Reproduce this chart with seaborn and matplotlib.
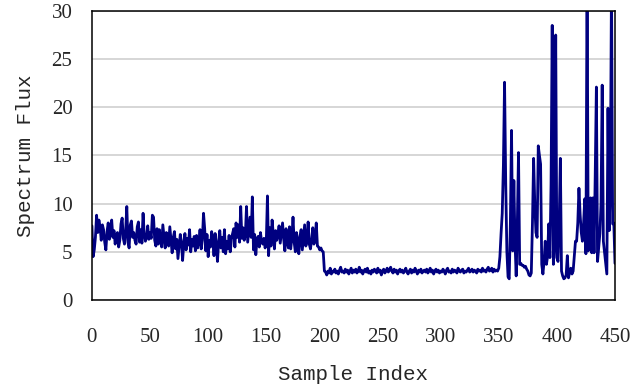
import matplotlib
matplotlib.use("Agg")
import matplotlib.pyplot as plt
import seaborn as sns
import pandas as pd

# spectrum flux per sample
flux_part1 = [
    7.7, 4.5, 5.2, 6.5, 8.8, 7.0, 8.3, 7.6, 6.2, 7.8,
    7.3, 6.0, 5.2, 7.1, 8.0, 6.3, 7.5, 8.3, 6.5, 7.2,
    5.8, 6.8, 7.0, 5.5, 6.2, 7.9, 8.5, 6.4, 5.8, 7.2,
    9.7, 6.0, 5.4, 7.8, 8.2, 6.5, 7.0, 6.2, 5.8, 7.6,
    8.1, 6.0, 7.3, 5.9, 9.0, 6.8, 6.1, 6.5, 7.7, 6.3,
    7.0, 6.4, 8.8, 8.6, 6.2, 5.6, 7.4, 5.8, 7.3, 6.1,
    5.5, 7.8, 6.6, 5.4, 7.0, 6.8, 5.6, 7.6, 6.2, 4.9,
    6.5, 7.1, 5.3, 6.3, 4.3, 5.5, 6.8, 6.0, 4.1, 5.8,
    6.9, 5.2, 6.4, 5.7, 7.3, 5.0, 6.3, 5.6, 6.6, 5.1,
    6.7, 5.4, 6.0, 7.3, 5.3, 6.2, 9.0, 7.4, 5.1, 6.8,
    4.5, 6.2, 5.5, 7.1, 6.3, 4.6, 6.9, 5.8, 4.0, 6.0,
    7.2, 5.4, 6.5, 5.0, 7.3, 4.8, 6.1, 5.3, 6.7, 5.0,
    6.3, 6.9, 7.4, 5.5, 8.0, 6.5, 7.8, 6.0, 9.7, 6.4,
    7.5, 6.2, 6.8, 9.7, 6.0, 7.3, 8.6, 6.5, 10.7, 5.2,
    6.8, 4.7, 6.3, 6.6, 5.5, 7.0, 6.0, 5.8, 6.4, 5.4,
    6.0, 10.8, 4.6, 7.5, 5.6, 8.3, 6.9, 5.3, 7.2, 6.2,
    6.8, 7.7, 5.9, 7.0, 8.0, 6.3, 5.1, 7.4, 6.1, 5.4,
    7.6, 5.3, 6.4, 8.6, 6.0, 5.0, 7.0, 6.1, 4.8, 6.6,
    7.3, 5.2, 6.5, 7.8, 5.6, 6.0, 8.1, 5.8, 5.3, 6.2,
    7.5, 5.8, 6.4, 8.0, 5.6, 5.5, 5.2, 5.4,
]
flux_part2 = [
    5.1, 5.0, 3.0, 2.9, 2.6, 3.0, 2.8, 3.3, 2.7, 3.0,
    2.9, 3.2, 2.8, 3.0, 2.7, 3.1, 3.4, 2.9, 3.0, 2.8,
    3.2, 2.9, 3.1, 2.7, 3.0, 3.3, 2.8, 3.1, 2.9, 3.2,
    2.8, 3.0, 3.4, 2.9, 3.1, 2.7, 3.0, 3.2, 2.9, 3.3,
    2.8, 3.0, 2.7, 3.1, 2.9, 3.2, 3.0, 2.8, 3.3, 2.9,
    3.1, 2.6, 3.0, 3.2, 2.8, 3.0, 3.3, 2.9, 3.1, 3.4,
    3.0, 2.8, 3.2, 2.9, 3.1, 2.7, 3.0, 3.2, 2.9, 3.1,
    2.8, 3.0, 3.3, 2.9, 2.7, 3.0, 3.2, 2.8, 3.1, 2.9,
    3.3, 3.0, 2.7, 3.1, 2.9, 3.2, 2.8, 3.0, 3.1, 2.9,
    3.2, 2.8, 3.0, 3.3, 2.9, 3.1, 2.7, 3.0, 3.2, 2.9,
    3.1, 2.8, 3.0, 2.9, 3.2, 3.0, 2.7, 3.1, 3.3, 2.9,
    3.0, 2.8, 3.2, 2.9, 3.1, 3.0, 2.8, 3.3, 3.0, 2.9,
    3.1, 3.2, 2.8, 3.0, 2.9, 3.1, 3.3, 2.9, 3.0, 3.2,
    2.9, 3.1, 3.0, 2.8, 3.2, 3.0, 3.1, 2.9, 3.3, 3.0,
    3.1, 2.9, 3.2, 3.4, 3.0, 3.1, 3.3, 2.9, 3.2, 3.0,
    3.1,
]
flux_part3 = [
    3.0, 3.3, 4.5, 6.9, 9.0, 14.0, 22.6, 12.1, 5.0, 2.4,
    2.2, 8.0, 17.6, 5.1, 12.4, 6.0, 2.5, 8.0, 15.3, 3.7,
    3.8, 3.6, 3.6, 3.4, 3.5, 3.2, 3.0, 2.6, 2.5, 2.8,
    8.0, 14.7, 10.0, 7.0, 6.5, 16.0, 15.0, 14.1, 3.7, 2.7,
    4.0, 6.1, 3.7, 4.5, 7.9, 4.4, 12.0, 28.5, 3.7, 6.0,
    27.5, 4.4, 4.0, 8.0, 14.7, 3.0, 2.5, 2.2, 2.3, 2.6,
    4.6, 2.3, 2.9, 3.3, 2.7, 3.0, 4.5, 6.1, 6.1, 8.0,
    11.6, 8.9, 7.0, 6.1, 8.0, 10.5, 4.8, 34.0, 5.1, 7.0,
    10.6, 4.9, 10.6, 4.9, 13.0, 22.1, 4.0, 5.4, 6.9, 10.0,
    22.3, 6.1, 5.0, 4.0, 2.7, 19.9, 7.2, 12.0, 33.0, 7.9,
    8.0, 3.8,
]

flux = flux_part1 + flux_part2 + flux_part3
df = pd.DataFrame({"index": range(len(flux)), "flux": flux})

sns.set_style("white")
plt.rcParams['font.family'] = ['Liberation Serif', 'DejaVu Serif']

fig = plt.figure(figsize=(6.34, 3.88), dpi=100)
ax = fig.add_axes([0.145, 0.2268, 0.825, 0.745])

sns.lineplot(data=df, x="index", y="flux", color="#000080", linewidth=2.0, ax=ax)

ax.set_xlim(0, 450)
ax.set_ylim(0, 30)
ax.set_xticks(range(0, 451, 50))
ax.set_yticks(range(0, 31, 5))
ax.yaxis.grid(True, color="#d0d0d0", linewidth=1.2)
ax.xaxis.grid(False)
ax.set_axisbelow(True)

for side in ax.spines.values():
    side.set_color("black")
    side.set_linewidth(1.1)

ax.tick_params(axis="x", direction="in", length=5, width=1, pad=20, labelsize=15)
ax.tick_params(axis="y", direction="in", length=5, width=1, pad=14, labelsize=15)

ax.set_xlabel("Sample Index", fontsize=15, family="Liberation Mono", labelpad=13)
ax.set_ylabel("Spectrum Flux", fontsize=15, family="Liberation Mono", labelpad=12)

fig.savefig("out.png", dpi=100)
